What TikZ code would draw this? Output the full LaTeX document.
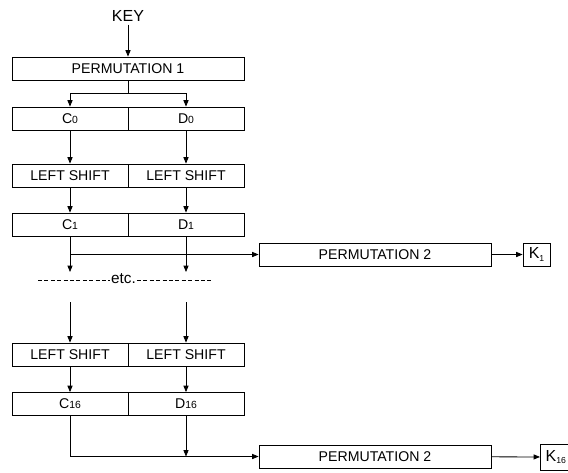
\documentclass[tikz,border=0pt]{standalone}
\usepackage{fontspec}
\setmainfont{Liberation Sans}
\usetikzlibrary{arrows.meta}

% small digits used as indices in the register labels
\newcommand{\idx}[1]{{\fontsize{7.8}{8}\selectfont #1}}
\newcommand{\kidx}[1]{\raisebox{-2pt}{\fontsize{6.5}{7}\selectfont #1}}

\begin{document}
\begin{tikzpicture}[x=0.75pt,y=-0.75pt,
  line width=0.6pt,
  arr/.style={-{Triangle[length=4.8pt,width=3.8pt]}},
  box/.style={draw, inner sep=0pt, minimum height=17.25pt,
              font=\fontsize{10.6}{12}\selectfont},
  fullbox/.style={box, minimum width=174pt},
  halfbox/.style={box, minimum width=87pt},
  keybox/.style={draw, inner sep=0pt, minimum width=20.25pt,
                 font=\fontsize{12}{14}\selectfont}]

\useasboundingbox (0,0) rectangle (568,472);

% input and first permutation
\node[inner sep=2pt, font=\fontsize{12}{14}\selectfont] (key) at (128,16) {KEY};
\node[fullbox] (perm1) at (128,68.5) {PERMUTATION 1};
\draw[arr] (key) -- (perm1);

% split into the two halves
\node[halfbox] (c0) at (70,118.5) {C\idx{0}};
\node[halfbox] (d0) at (186,118.5) {D\idx{0}};
\coordinate (split) at (128,93);
\draw (perm1) -- (split);
\draw[arr] (split) -| (c0);
\draw[arr] (split) -| (d0);

% first round
\node[halfbox] (ls1a) at (70,175.5) {LEFT SHIFT};
\node[halfbox] (ls1b) at (186,175.5) {LEFT SHIFT};
\draw[arr] (c0) -- (ls1a);
\draw[arr] (d0) -- (ls1b);

\node[halfbox] (c1) at (70,224.5) {C\idx{1}};
\node[halfbox] (d1) at (186,224.5) {D\idx{1}};
\draw[arr] (ls1a) -- (c1);
\draw[arr] (ls1b) -- (d1);

% subkey K1
\node[fullbox] (p2a) at (375,254.5) {PERMUTATION 2};
\node[keybox, minimum height=17.25pt] (k1) at (536.5,254.5) {K\kidx{1}};
\coordinate (b1) at (70,254.5);
\draw[arr] (b1) -- (p2a);
\draw[arr] (p2a) -- (k1);

\coordinate (e1) at (70,272);
\coordinate (f1) at (186,272);
\draw[arr] (c1) -- (e1);
\draw[arr] (d1) -- (f1);

% elided rounds
\node[inner sep=0.5pt, font=\fontsize{11.5}{13}\selectfont] (etc) at (123.5,279) {etc.};
\coordinate (dl) at (38,280);
\coordinate (dr) at (212,280);
\draw[dash pattern=on 3pt off 1.8pt] (dl) -- (dl -| etc.west);
\draw[dash pattern=on 3pt off 1.8pt] (dr -| etc.east) -- (dr);

% last round
\coordinate (s1) at (70,302);
\coordinate (s2) at (186,302);
\node[halfbox] (ls2a) at (70,354.5) {LEFT SHIFT};
\node[halfbox] (ls2b) at (186,354.5) {LEFT SHIFT};
\draw[arr] (s1) -- (ls2a);
\draw[arr] (s2) -- (ls2b);

\node[halfbox] (c16) at (70,404) {C\idx{16}};
\node[halfbox] (d16) at (186,404) {D\idx{16}};
\draw[arr] (ls2a) -- (c16);
\draw[arr] (ls2b) -- (d16);

% subkey K16 (its box runs past the right edge)
\node[fullbox] (p2b) at (375,456.5) {PERMUTATION 2};
\node[keybox, minimum height=19.5pt, minimum width=15.5pt, inner xsep=4pt, inner ysep=0pt,
      anchor=west] (k16) at (540,457) {K\kidx{16}\hspace{6pt}};
\coordinate (b16) at (70,456.5);
\coordinate (m16) at (186,456.5);
\draw (c16) -- (b16);
\draw[arr] (b16) -- (p2b);
\draw[arr] (d16) -- (m16);
\draw[arr] (p2b) -- (k16);

\end{tikzpicture}
\end{document}
